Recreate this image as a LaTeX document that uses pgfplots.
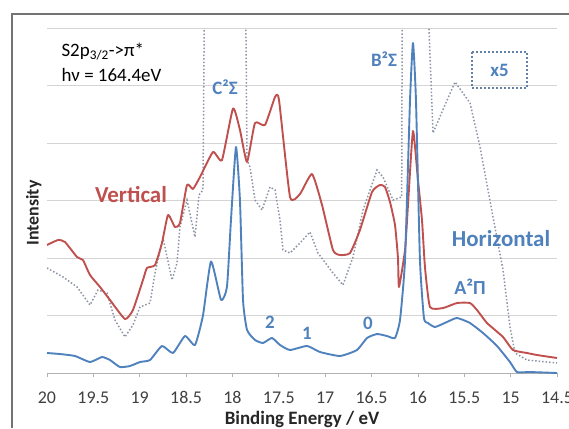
\documentclass[border=0pt]{standalone}
\usepackage{fontspec}
\setmainfont{Carlito}
\usepackage{pgfplots}
\pgfplotsset{compat=1.18}
\definecolor{vred}{RGB}{192,80,77}
\definecolor{hblue}{RGB}{79,129,189}
\definecolor{dotgray}{RGB}{140,148,165}
\definecolor{gridgray}{RGB}{212,212,212}

\pgfplotstableread{
E I
20.000 0.348
19.860 0.330
19.698 0.296
19.536 0.191
19.407 0.278
19.321 0.226
19.213 0.104
19.105 0.122
18.997 0.191
18.889 0.226
18.760 0.470
18.641 0.348
18.512 0.643
18.404 0.487
18.318 1.000
18.231 1.940
18.123 1.270
18.059 1.500
18.016 2.660
17.962 3.930
17.919 3.000
17.886 1.270
17.843 0.750
17.757 0.574
17.671 0.522
17.574 0.609
17.487 0.487
17.379 0.400
17.196 0.470
17.056 0.365
16.840 0.296
16.657 0.400
16.549 0.609
16.441 0.678
16.333 0.643
16.247 0.609
16.193 0.922
16.139 1.965
16.085 4.750
16.053 5.739
16.021 4.750
15.978 1.965
15.935 0.957
15.892 0.870
15.816 0.800
15.687 0.887
15.579 0.957
15.439 0.870
15.298 0.696
15.147 0.470
15.007 0.191
14.931 0.017
14.791 0.017
14.500 0.000
}\horiz

\pgfplotstableread{
E I
20.000 2.226
19.881 2.313
19.806 2.278
19.676 2.017
19.612 1.965
19.536 1.704
19.428 1.496
19.321 1.270
19.159 0.939
19.073 1.096
18.965 1.617
18.922 1.826
18.835 1.878
18.760 2.261
18.695 2.748
18.620 2.539
18.566 2.609
18.490 3.270
18.426 3.200
18.350 3.409
18.210 3.843
18.113 3.704
17.994 4.600
17.919 4.226
17.843 3.670
17.757 4.348
17.649 4.313
17.541 4.800
17.498 4.748
17.379 3.061
17.272 3.113
17.142 3.461
17.034 2.922
16.916 2.139
16.840 2.052
16.732 2.087
16.625 2.487
16.495 3.148
16.409 3.270
16.355 3.235
16.301 2.974
16.247 2.574
16.215 2.000
16.204 1.496
16.139 2.139
16.107 2.922
16.053 4.209
16.000 3.365
15.956 2.660
15.924 1.843
15.870 1.148
15.729 1.130
15.579 1.217
15.439 1.217
15.363 1.096
15.255 0.870
15.082 0.626
14.975 0.400
14.824 0.348
14.716 0.313
14.500 0.261
}\vert

\pgfplotstableread{
E I
20.000 1.826
19.827 1.670
19.676 1.496
19.536 1.183
19.450 1.443
19.353 1.391
19.267 0.922
19.159 0.626
19.073 0.835
18.997 1.148
18.889 1.217
18.835 1.739
18.749 2.348
18.652 1.617
18.598 1.913
18.566 2.539
18.490 3.009
18.404 2.365
18.361 3.096
18.318 3.183
18.300 7.000
17.860 7.000
17.843 3.704
17.811 3.583
17.757 3.009
17.681 2.835
17.595 3.235
17.541 3.183
17.487 2.661
17.455 2.139
17.379 2.087
17.272 2.261
17.164 2.452
17.078 2.087
16.916 1.739
16.808 1.530
16.700 2.017
16.592 2.835
16.441 3.530
16.377 3.409
16.269 3.009
16.175 3.060
16.168 7.000
15.905 7.000
15.837 4.174
15.708 4.661
15.600 5.061
15.438 4.696
15.330 3.930
15.190 2.713
15.082 1.791
15.007 0.800
14.953 0.348
14.824 0.226
14.500 0.174
}\xfive

\begin{document}
\begin{tikzpicture}[x=1bp,y=1bp]
% chart frame (cropped on right and bottom)
\draw[black!55, line width=1.6bp] (12,0) -- (12,414) -- (580,414);

\begin{axis}[
  at={(47bp,55bp)}, anchor=south west,
  scale only axis, width=510bp, height=345bp,
  xmin=14.5, xmax=20, x dir=reverse,
  ymin=0, ymax=6,
  axis x line*=bottom, axis y line*=left,
  y axis line style={draw=none},
  x axis line style={draw=black!30, line width=1bp, -},
  xtick={14.5,15,15.5,16,16.5,17,17.5,18,18.5,19,19.5,20},
  ytick={0,1,2,3,4,5,6}, yticklabels={},
  ytick style={draw=none},
  xtick style={draw=black!30, line width=0.8bp},
  tick align=outside, major tick length=4bp,
  ymajorgrids, grid style={gridgray, line width=0.9bp},
  /pgf/number format/assume math mode=true,
  ticklabel style={font=\fontsize{18}{20}\selectfont, text=black!75},
  xticklabel style={yshift=-11bp},
  xlabel={\bfseries Binding Energy / eV},
  ylabel={\bfseries Intensity},
  every axis x label/.style={at={(axis description cs:0.5,-0.135)}, anchor=center,
    font=\fontsize{19}{22}\selectfont, text=black!85},
  every axis y label/.style={at={(axis description cs:-0.026,0.464)}, anchor=center,
    rotate=90, font=\fontsize{18}{22}\selectfont, text=black!85},
  clip mode=individual,
]
\addplot[dotgray, line width=1.5bp, dash pattern=on 1.5bp off 2bp] table[x=E,y=I] {\xfive};
\addplot[vred, line width=1.9bp, line join=round, smooth, tension=0.3] table[x=E,y=I] {\vert};
\addplot[hblue, line width=1.9bp, line join=round, smooth, tension=0.3] table[x=E,y=I] {\horiz};

\node[anchor=base west, font=\fontsize{19}{22}\selectfont] at (19.881,5.513) {S2p\textsubscript{3/2}->π*};
\node[anchor=base west, font=\fontsize{19}{22}\selectfont] at (19.881,5.078) {hν = 164.4eV};
\node[hblue, font=\bfseries\fontsize{19}{22}\selectfont] at (18.080,4.974) {C²Σ};
\node[hblue, font=\bfseries\fontsize{19}{22}\selectfont] at (16.366,5.461) {B²Σ};
\draw[hblue!60!gray, line width=1.2bp, dash pattern=on 2bp off 2bp] (15.417,5.583) rectangle (14.824,4.957);
\node[hblue, font=\bfseries\fontsize{19}{22}\selectfont] at (15.12,5.27) {x5};
\node[vred, font=\bfseries\fontsize{23}{26}\selectfont] at (19.094,3.096) {Vertical};
\node[hblue, font=\bfseries\fontsize{23}{26}\selectfont] at (15.104,2.330) {Horizontal};
\node[hblue, font=\bfseries\fontsize{20}{24}\selectfont] at (15.438,1.496) {A²Π};
\node[hblue, font=\bfseries\fontsize{19}{22}\selectfont] at (17.595,0.887) {2};
\node[hblue, font=\bfseries\fontsize{19}{22}\selectfont] at (17.196,0.696) {1};
\node[hblue, font=\bfseries\fontsize{19}{22}\selectfont] at (16.538,0.870) {0};
\end{axis}
\pgfresetboundingbox
\path[use as bounding box] (0,0) rectangle (569,428);
\end{tikzpicture}
\end{document}
